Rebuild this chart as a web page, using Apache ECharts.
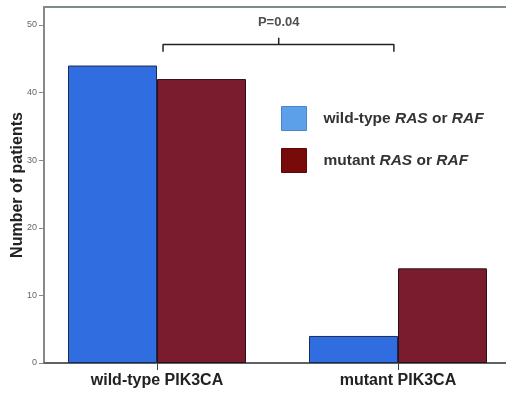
<!DOCTYPE html>
<html><head><meta charset="utf-8">
<script src="https://cdn.jsdelivr.net/npm/echarts@6/dist/echarts.min.js"></script>
<style>html,body{margin:0;padding:0;background:#fff}#c{width:506px;height:393px}</style>
</head><body><div id="c"></div>
<script>
const categories = ['wild-type PIK3CA', 'mutant PIK3CA'];
const seriesNames = ['wild-type RAS or RAF', 'mutant RAS or RAF'];
const wildTypeRas = [44, 4];
const mutantRas = [42, 14];
const yTicks = [0, 10, 20, 30, 40, 50];
const pLabel = 'P=0.04';
const bracket = [[0.025, 46.05], [0.025, 47.1], [0.505, 47.1], [0.505, 48.1], [0.505, 47.1], [0.983, 47.1], [0.983, 46.05]];
const pPos = [0.505, 50.45];

const chart = echarts.init(document.getElementById('c'));
const FONT = 'Liberation Sans, Arial, sans-serif';
chart.setOption({
  animation: false,
  backgroundColor: '#fff',
  grid: { left: 44, right: -5, top: 7, bottom: 30, outerBoundsMode: 'none', containLabel: false,
          show: true, borderColor: '#7d8b8b', borderWidth: 2, backgroundColor: 'transparent' },
  legend: {
    left: 276, top: 101, orient: 'vertical', itemWidth: 25, itemHeight: 24, itemGap: 17,
    icon: 'rect',
    data: [
      { name: seriesNames[0], itemStyle: { color: '#5ba0e8', borderColor: '#4a86c8', borderWidth: 1 } },
      { name: seriesNames[1], itemStyle: { color: '#780a0a', borderColor: '#5a0808', borderWidth: 1 } }
    ],
    formatter: function (n) {
      return n.replace(/^(.*?)RAS or RAF$/, '{a|$1}{b|RAS}{a| or }{b|RAF}');
    },
    textStyle: {
      padding: [0, 0, 0, 12],
      rich: {
        a: { fontFamily: FONT, fontSize: 15.5, fontWeight: 'bold', color: '#333' },
        b: { fontFamily: FONT, fontSize: 15.5, fontWeight: 'bold', fontStyle: 'italic', color: '#333' }
      }
    }
  },
  xAxis: {
    type: 'value', min: -0.4689, max: 1.4689,
    axisLine: { show: true, onZero: false, lineStyle: { color: '#555', width: 1.5 } },
    axisTick: { show: true, customValues: [0, 1], length: 7, lineStyle: { color: '#444' } },
    axisLabel: {
      customValues: [0, 1], margin: 10,
      formatter: v => categories[Math.round(v)],
      fontFamily: FONT, fontSize: 16, fontWeight: 'bold', color: '#222'
    },
    splitLine: { show: false }
  },
  yAxis: {
    type: 'value', min: 0, max: 52.66,
    name: 'Number of patients', nameLocation: 'middle', nameGap: 18, nameMoveOverlap: false,
    nameTextStyle: { fontFamily: FONT, fontSize: 16, fontWeight: 'bold', color: '#222' },
    axisLine: { show: true, onZero: false, lineStyle: { color: '#888', width: 2 } },
    axisTick: { show: true, customValues: yTicks, length: 5, lineStyle: { color: '#888' } },
    axisLabel: { customValues: yTicks, margin: 7, fontFamily: FONT, fontSize: 9, color: '#666' },
    splitLine: { show: false }
  },
  series: [
    {
      name: seriesNames[0], type: 'bar', barWidth: 89, barGap: '0%',
      data: wildTypeRas.map((v, i) => [i, v]),
      itemStyle: { color: '#2f6de0', borderColor: '#1b2a55', borderWidth: 1 }
    },
    {
      name: seriesNames[1], type: 'bar', barWidth: 89, barGap: '0%',
      data: mutantRas.map((v, i) => [i, v]),
      itemStyle: { color: '#7a1c2e', borderColor: '#2a1014', borderWidth: 1 }
    },
    {
      type: 'line', data: bracket, symbol: 'none', silent: true,
      lineStyle: { color: '#222', width: 1.5 }
    },
    {
      type: 'scatter', data: [pPos], symbolSize: 0, silent: true,
      label: { show: true, position: 'inside', formatter: pLabel, fontFamily: FONT, fontSize: 13, fontWeight: 'bold', color: '#222' }
    }
  ]
});
</script></body></html>
